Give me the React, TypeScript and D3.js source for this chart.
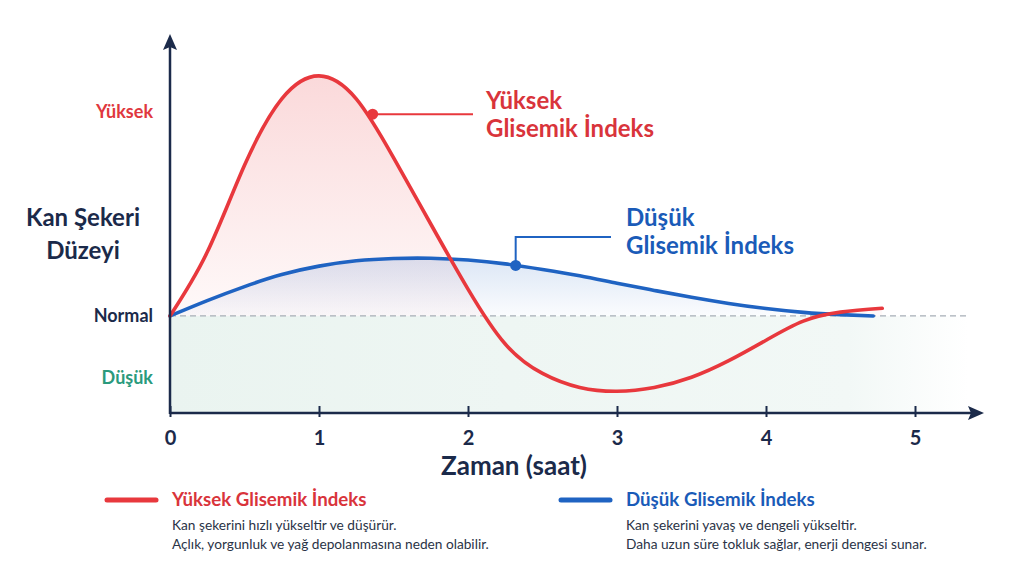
import React, { useEffect, useRef } from "react";
import * as d3 from "d3";

// hours after eating
const highHours = [0, 0.25, 0.5, 0.75, 1, 1.25, 1.5, 1.75, 2, 2.25, 2.5, 2.75, 3, 3.25, 3.5, 3.75, 4, 4.25, 4.5, 4.78];
// blood sugar, 100 = normal
const highValues = [100, 125, 159, 185, 194, 185, 162, 136, 110.5, 89, 77.5, 72, 70.5, 72, 76, 82.5, 90.5, 98, 101.5, 103];

const lowHours = [0, 0.25, 0.5, 0.75, 1, 1.25, 1.5, 1.75, 2, 2.25, 2.5, 2.75, 3, 3.25, 3.5, 3.75, 4, 4.25, 4.5, 4.72];
const lowValues = [100, 106, 111.5, 116.2, 119.5, 121.6, 122.5, 122.6, 121.9, 120.4, 118.2, 115.7, 112.8, 110, 107.3, 104.9, 102.9, 101.4, 100.5, 100];

const xTicks = [0, 1, 2, 3, 4, 5];
const levelLabels = ["Yüksek", "Normal", "Düşük"];
const levelValues = [180, 100, 76];
const levelColors = ["#e0383e", "#1b2a4a", "#2a9a7c"];

const normalValue = 100;
const highCallout = { hour: 1.36, value: 179 };
const lowCallout = { hour: 2.32, value: 119.8 };

const RED = "#e8383d";
const RED_TEXT = "#d9343b";
const BLUE = "#1f63c2";
const BLUE_TEXT = "#1a5bb8";
const NAVY = "#1b2a4a";
const FONT = "Lato, 'Noto Sans', sans-serif";

export default function App() {
  const svgRef = useRef<SVGSVGElement | null>(null);

  useEffect(() => {
    if (!svgRef.current) return;
    const svg = d3.select(svgRef.current);
    svg.selectAll("*").remove();

    const x = d3.scaleLinear().domain([0, 5]).range([170, 915]);
    const y = d3.scaleLinear().domain([62, 210]).range([413, 35]);
    const x0 = x(0);
    const yBase = y(62);
    const yNorm = y(normalValue);

    const defs = svg.append("defs");

    const band = defs.append("linearGradient").attr("id", "band").attr("x1", "0").attr("x2", "1").attr("y1", "0").attr("y2", "0");
    band.append("stop").attr("offset", "0").attr("stop-color", "#eaf4f0");
    band.append("stop").attr("offset", "0.85").attr("stop-color", "#f2f8f6");
    band.append("stop").attr("offset", "1").attr("stop-color", "#ffffff");

    const redGrad = defs.append("linearGradient").attr("id", "redFill").attr("gradientUnits", "userSpaceOnUse")
      .attr("x1", 0).attr("x2", 0).attr("y1", y(194)).attr("y2", yNorm);
    redGrad.append("stop").attr("offset", "0").attr("stop-color", RED).attr("stop-opacity", 0.19);
    redGrad.append("stop").attr("offset", "1").attr("stop-color", RED).attr("stop-opacity", 0.03);

    const blueGrad = defs.append("linearGradient").attr("id", "blueFill").attr("gradientUnits", "userSpaceOnUse")
      .attr("x1", 0).attr("x2", 0).attr("y1", y(123)).attr("y2", yNorm);
    blueGrad.append("stop").attr("offset", "0").attr("stop-color", BLUE).attr("stop-opacity", 0.16);
    blueGrad.append("stop").attr("offset", "1").attr("stop-color", BLUE).attr("stop-opacity", 0.02);

    defs.append("clipPath").attr("id", "aboveNormal")
      .append("rect").attr("x", x0).attr("y", 0).attr("width", 1024).attr("height", yNorm);

    // low zone band
    svg.append("rect")
      .attr("x", x0).attr("y", yNorm)
      .attr("width", 968 - x0).attr("height", yBase - yNorm)
      .attr("fill", "url(#band)");

    const high = highHours.map((h, i) => ({ h, v: highValues[i] }));
    const low = lowHours.map((h, i) => ({ h, v: lowValues[i] }));

    const area = d3.area<{ h: number; v: number }>()
      .x((d) => x(d.h)).y0(yNorm).y1((d) => y(d.v))
      .curve(d3.curveNatural);
    const line = d3.line<{ h: number; v: number }>()
      .x((d) => x(d.h)).y((d) => y(d.v))
      .curve(d3.curveNatural);

    svg.append("path").datum(high).attr("d", area).attr("fill", "url(#redFill)").attr("clip-path", "url(#aboveNormal)");
    svg.append("path").datum(low).attr("d", area).attr("fill", "url(#blueFill)").attr("clip-path", "url(#aboveNormal)");

    // normal line
    svg.append("line")
      .attr("x1", x0).attr("x2", 966).attr("y1", yNorm).attr("y2", yNorm)
      .attr("stroke", "#a7aeb7").attr("stroke-width", 1.3).attr("stroke-dasharray", "6 4");

    svg.append("path").datum(low).attr("d", line)
      .attr("fill", "none").attr("stroke", BLUE).attr("stroke-width", 3.6).attr("stroke-linecap", "round");
    svg.append("path").datum(high).attr("d", line)
      .attr("fill", "none").attr("stroke", RED).attr("stroke-width", 3.6).attr("stroke-linecap", "round");

    // axes
    const xAxis = svg.append("g")
      .attr("transform", `translate(0,${yBase})`)
      .call(d3.axisBottom(x).tickValues(xTicks).tickSize(10).tickFormat((d) => String(d)));
    xAxis.select(".domain").remove();
    xAxis.selectAll(".tick line").attr("y1", -7).attr("y2", 4).attr("stroke", NAVY).attr("stroke-width", 2);
    xAxis.selectAll(".tick text")
      .attr("y", 25).attr("dy", "0.35em")
      .attr("fill", NAVY).attr("font-family", FONT).attr("font-size", 20).attr("font-weight", 700);

    svg.append("line").attr("x1", x0).attr("x2", 972).attr("y1", yBase).attr("y2", yBase)
      .attr("stroke", NAVY).attr("stroke-width", 2.5);
    svg.append("path")
      .attr("d", `M984,${yBase} L968,${yBase - 7} L971,${yBase} L968,${yBase + 7} Z`)
      .attr("fill", NAVY);

    svg.append("line").attr("x1", x0).attr("x2", x0).attr("y1", yBase + 1).attr("y2", 46)
      .attr("stroke", NAVY).attr("stroke-width", 2.5);
    svg.append("path")
      .attr("d", `M${x0},34 L${x0 - 7},50 L${x0},47 L${x0 + 7},50 Z`)
      .attr("fill", NAVY);

    // level labels
    svg.selectAll(".level")
      .data(levelLabels)
      .enter()
      .append("text")
      .attr("x", 153)
      .attr("y", (_, i) => y(levelValues[i]))
      .attr("dy", "0.35em")
      .attr("text-anchor", "end")
      .attr("font-family", FONT)
      .attr("font-size", 18)
      .attr("font-weight", 700)
      .attr("fill", (_, i) => levelColors[i])
      .text((d) => d);

    // y title
    const yTitle = svg.append("text")
      .attr("text-anchor", "middle").attr("font-family", FONT)
      .attr("font-size", 24).attr("font-weight", 700).attr("fill", NAVY);
    yTitle.append("tspan").attr("x", 83).attr("y", 226).text("Kan Şekeri");
    yTitle.append("tspan").attr("x", 83).attr("y", 259).text("Düzeyi");

    // x title
    svg.append("text")
      .attr("x", 514).attr("y", 475)
      .attr("text-anchor", "middle").attr("font-family", FONT)
      .attr("font-size", 26).attr("font-weight", 700).attr("fill", NAVY)
      .text("Zaman (saat)");

    // callouts
    const hx = x(highCallout.hour);
    const hy = y(highCallout.value);
    svg.append("line").attr("x1", hx).attr("x2", 473).attr("y1", hy).attr("y2", hy)
      .attr("stroke", RED).attr("stroke-width", 2);
    svg.append("circle").attr("cx", hx).attr("cy", hy).attr("r", 5.5).attr("fill", RED);
    const hText = svg.append("text")
      .attr("font-family", FONT).attr("font-size", 24).attr("font-weight", 700).attr("fill", RED_TEXT);
    hText.append("tspan").attr("x", 486).attr("y", 109).text("Yüksek");
    hText.append("tspan").attr("x", 486).attr("y", 137).text("Glisemik İndeks");

    const lx = x(lowCallout.hour);
    const ly = y(lowCallout.value);
    svg.append("path")
      .attr("d", `M${lx},${ly} L${lx},237 L611,237`)
      .attr("fill", "none").attr("stroke", BLUE).attr("stroke-width", 2);
    svg.append("circle").attr("cx", lx).attr("cy", ly).attr("r", 5.5).attr("fill", BLUE);
    const lText = svg.append("text")
      .attr("font-family", FONT).attr("font-size", 24).attr("font-weight", 700).attr("fill", BLUE_TEXT);
    lText.append("tspan").attr("x", 626).attr("y", 226).text("Düşük");
    lText.append("tspan").attr("x", 626).attr("y", 254).text("Glisemik İndeks");

    // legend
    const legend = [
      { x: 107, color: RED, text: RED_TEXT, title: "Yüksek Glisemik İndeks",
        lines: ["Kan şekerini hızlı yükseltir ve düşürür.", "Açlık, yorgunluk ve yağ depolanmasına neden olabilir."] },
      { x: 561, color: BLUE, text: BLUE_TEXT, title: "Düşük Glisemik İndeks",
        lines: ["Kan şekerini yavaş ve dengeli yükseltir.", "Daha uzun süre tokluk sağlar, enerji dengesi sunar."] },
    ];
    const lg = svg.selectAll(".legend").data(legend).enter().append("g")
      .attr("transform", (d) => `translate(${d.x},0)`);
    lg.append("line").attr("x1", 0).attr("x2", 49).attr("y1", 500).attr("y2", 500)
      .attr("stroke", (d) => d.color).attr("stroke-width", 5).attr("stroke-linecap", "round");
    lg.append("text").attr("x", 65).attr("y", 506)
      .attr("font-family", FONT).attr("font-size", 18.7).attr("font-weight", 700)
      .attr("fill", (d) => d.text).text((d) => d.title);
    lg.each(function (d) {
      const t = d3.select(this).append("text")
        .attr("font-family", FONT).attr("font-size", 13.7).attr("fill", "#2a3346");
      d.lines.forEach((s, i) => {
        t.append("tspan").attr("x", 65).attr("y", 530 + i * 19).text(s);
      });
    });
  }, []);

  return (
    <div style={{ position: "fixed", left: 0, top: 0, width: 1024, height: 576, background: "#fff" }}>
      <svg ref={svgRef} width={1024} height={576} style={{ display: "block" }} />
    </div>
  );
}
